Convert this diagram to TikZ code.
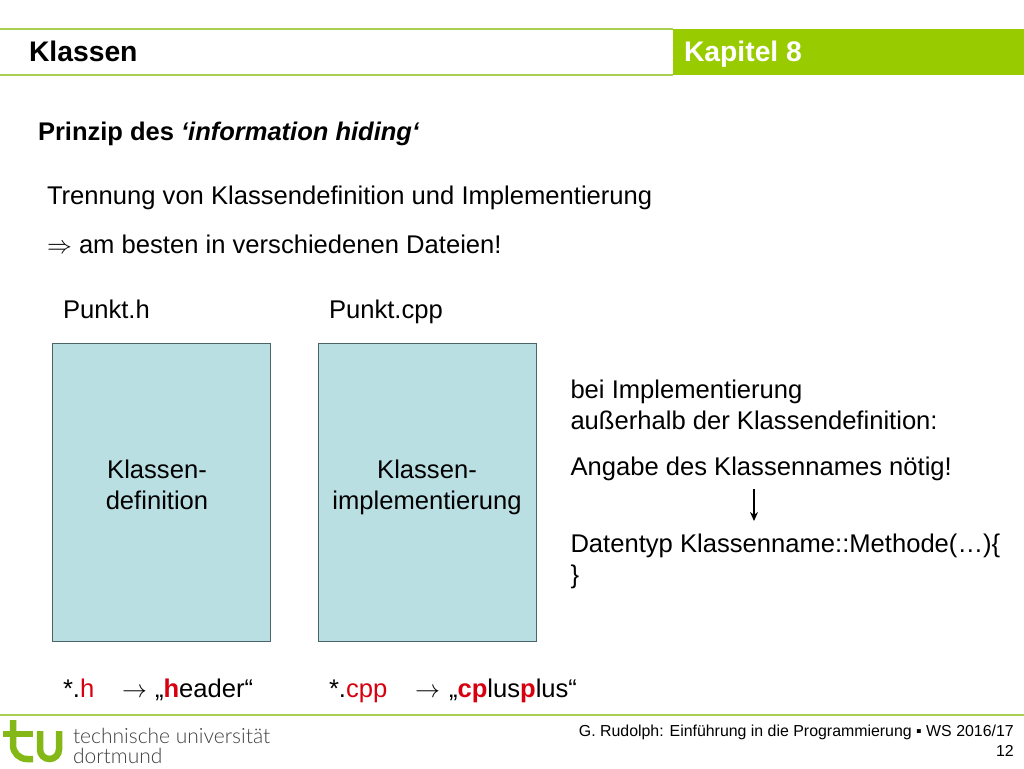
\documentclass[tikz,border=0pt]{standalone}
\usepackage{fontspec}
\setmainfont{Liberation Sans}
\newfontfamily\logofont{Lato Light}
\usetikzlibrary{arrows.meta}
\definecolor{tugreen}{HTML}{99CC00}
\definecolor{tuline}{HTML}{A9CF4E}
\definecolor{boxfill}{HTML}{B9DFE2}
\definecolor{boxline}{HTML}{4A6468}
\definecolor{logogreen}{HTML}{84B817}
\definecolor{hl}{HTML}{D8000F}
\tikzset{
  txt/.style={anchor=base west,inner sep=0pt,outer sep=0pt,font=\fontsize{25.6}{28}\selectfont,text=black},
  ctr/.style={anchor=base,inner sep=0pt,outer sep=0pt,font=\fontsize{25.6}{28}\selectfont,text=black},
  filebox/.style={draw=boxline,line width=1pt,fill=boxfill,inner sep=0pt,outer sep=0pt},
  rule/.style={draw=tuline,line width=2pt},
  logoline/.style={draw=logogreen,line width=6.5pt}
}
\newcommand{\red}[1]{\textcolor{hl}{#1}}
\begin{document}
\begin{tikzpicture}[x=1pt,y=-1pt]
\useasboundingbox (0,0) rectangle (1024,768);
\fill[white] (0,0) rectangle (1024,768);
% header
\fill[tugreen] (673,29) rectangle (1024,75);
\draw[rule] (0,29.5) -- (673,29.5);
\draw[rule] (0,74.5) -- (673,74.5);
\draw[rule] (0,714.5) -- (1024,714.5);
\node[txt,font=\fontsize{28.3}{30}\selectfont\bfseries] (title) at (29,62) {Klassen};
\node[txt,font=\fontsize{28.3}{30}\selectfont\bfseries,text=white] (chap) at (684,62) {Kapitel 8};
\node[txt,font=\fontsize{25.5}{28}\selectfont\bfseries] (prinzip) at (38,140) {Prinzip des \textit{‘information hiding‘}};
\node[txt] (t1) at (47,204) {Trennung von Klassendefinition und Implementierung};
\node[txt] (t2) at (47,253) {\makebox[32pt][l]{$\Rightarrow$}am besten in verschiedenen Dateien!};
\node[txt] (ph) at (63,318) {Punkt.h};
\node[txt] (pc) at (329,318) {Punkt.cpp};
\node[filebox,minimum width=218pt,minimum height=298pt] (b1) at (161,492.5) {};
\node[filebox,minimum width=218pt,minimum height=298pt] (b2) at (427,492.5) {};
\node[ctr] (b1a) at (157,478) {Klassen-};
\node[ctr] (b1b) at (157,509) {definition};
\node[ctr] (b2a) at (427,478) {Klassen-};
\node[ctr] (b2b) at (427,509) {implementierung};
\node[txt] (r1) at (570.5,398) {bei Implementierung};
\node[txt] (r2) at (570.5,429) {außerhalb der Klassendefinition:};
\node[txt] (r3) at (570.5,475) {Angabe des Klassennames nötig!};
\node[txt] (r4) at (570.5,552) {Datentyp Klassenname::Methode(…)\{};
\node[txt] (r5) at (570.5,583) {\}};
\coordinate (as) at (754,489);
\coordinate (ae) at (754,521);
\draw[line width=1.6pt,-{Stealth[length=9pt,width=8pt]}] (as) -- (ae);
\node[txt] (h) at (63,697) {*.\red{h}};
\node[txt] (ha) at (122,697) {\makebox[33pt][l]{$\rightarrow$}„\red{\textbf{h}}eader“};
\node[txt] (c) at (329,697) {*.\red{cpp}};
\node[txt] (ca) at (415,697) {\makebox[34pt][l]{$\rightarrow$}„\red{\textbf{cp}}lus\red{\textbf{p}}lus“};
% footer
\node[anchor=base east,inner sep=0pt,font=\fontsize{15.9}{18}\selectfont] (foot) at (1014,736) {G. Rudolph: Einführung in die Programmierung ▪ WS 2016/17};
\node[anchor=base east,inner sep=0pt,font=\fontsize{15.9}{18}\selectfont] (page) at (1014,756) {12};
% logo
\draw[logoline] (3,734) -- (33,734);
\draw[logoline] (13,720) -- (13,745) arc[start angle=180,end angle=90,radius=14] -- (33,759);
\draw[logoline] (40,731) -- (40,749.5) arc[start angle=180,end angle=90,radius=9.5] -- (49.5,759) arc[start angle=90,end angle=0,radius=9.5] -- (59,731);
\node[txt,font=\fontsize{21}{24}\selectfont\logofont,text=black!75] (l1) at (73,743) {technische universität};
\node[txt,font=\fontsize{21}{24}\selectfont\logofont,text=black!75] (l2) at (73,763) {dortmund};
\end{tikzpicture}
\end{document}
